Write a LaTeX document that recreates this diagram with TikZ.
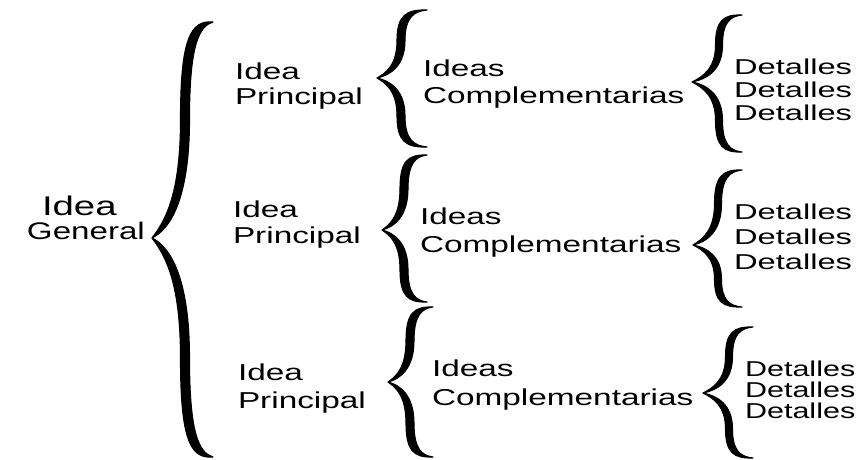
\documentclass[tikz,border=0pt]{standalone}
\usepackage{fontspec}
\setmainfont{Liberation Sans}
\usepackage{graphicx}
% half of a calligraphic brace: #1 tip x, #2 tip y, #3 arm x, #4 end x, #5 end y, #6 max width
\newcommand\halfb[6]{%
  \filldraw[bracefill]
   (#4,#5)
   .. controls ({#3-#6/2+0.35*(#4-#3)},{#5-0.01*(#2-#5)}) and ({#3-#6/2},{#5+0.08*(#2-#5)}) .. ({#3-#6/2},{#5+0.45*(#2-#5)})
   .. controls ({#3-#6/2},{#5+0.8*(#2-#5)}) and ({#1+0.4*(#3-#1)},{#2-0.08*(#2-#5)}) .. (#1,#2)
   .. controls ({#1+0.55*(#3-#1)},{#2-0.04*(#2-#5)}) and ({#3+#6/2},{#5+0.82*(#2-#5)}) .. ({#3+#6/2},{#5+0.45*(#2-#5)})
   .. controls ({#3+#6/2},{#5+0.1*(#2-#5)}) and ({#3+#6/2+0.35*(#4-#3)},{#5+0.02*(#2-#5)}) .. (#4,#5) -- cycle;}
% full brace: #1 tip x, #2 tip y, #3 arm x, #4 end x, #5 top y, #6 bottom y, #7 width
\newcommand\cbrace[7]{\halfb{#1}{#2}{#3}{#4}{#5}{#7}\halfb{#1}{#2}{#3}{#4}{#6}{#7}}
\newcommand\wt[2]{\scalebox{#1}[1]{#2}}
\tikzset{
  bracefill/.style={fill=black,draw=black,line width=1.1pt,line join=round},
  lbl/.style={anchor=base west,inner sep=0pt,outer sep=0pt,text=black},
  fgenA/.style={font=\fontsize{27}{27}\selectfont},
  fgenB/.style={font=\fontsize{24}{24}\selectfont},
  flv/.style={font=\fontsize{23}{23}\selectfont},
  fdet/.style={font=\fontsize{21.5}{21.5}\selectfont}
}
\begin{document}
\begin{tikzpicture}[x=1pt,y=-1pt]
\useasboundingbox[fill=white] (0,0) rectangle (863,460);
% braces
\cbrace{152}{238}{185}{213}{22}{457}{9}
\cbrace{377}{78}{401}{427}{10}{147}{8}
\cbrace{382}{230}{404}{427}{155}{302}{8}
\cbrace{388}{382}{410}{433}{307}{457}{8}
\cbrace{692}{82}{719}{742}{15}{152}{7}
\cbrace{693}{245}{718}{742}{170}{307}{7}
\cbrace{703}{393}{729}{753}{327}{458}{7}
% Idea General
\node[lbl,fgenA] (gA) at (42,215) {\wt{1.42}{Idea}};
\node[lbl,fgenB] (gB) at (27,239) {\wt{1.38}{General}};
% group 1
\node[lbl,flv] (pA1) at (235,80) {\wt{1.45}{Idea}};
\node[lbl,flv] (pB1) at (235,105) {\wt{1.45}{Principal}};
\node[lbl,flv] (cA1) at (423,77) {\wt{1.45}{Ideas}};
\node[lbl,flv] (cB1) at (423,103) {\wt{1.45}{Complementarias}};
\node[lbl,fdet] (dA1) at (734,75) {\wt{1.52}{Detalles}};
\node[lbl,fdet] (dB1) at (734,98) {\wt{1.52}{Detalles}};
\node[lbl,fdet] (dC1) at (734,121) {\wt{1.52}{Detalles}};
% group 2
\node[lbl,flv] (pA2) at (233,217) {\wt{1.45}{Idea}};
\node[lbl,flv] (pB2) at (233,243) {\wt{1.45}{Principal}};
\node[lbl,flv] (cA2) at (420,224) {\wt{1.45}{Ideas}};
\node[lbl,flv] (cB2) at (420,252) {\wt{1.45}{Complementarias}};
\node[lbl,fdet] (dA2) at (734,219) {\wt{1.52}{Detalles}};
\node[lbl,fdet] (dB2) at (734,244) {\wt{1.52}{Detalles}};
\node[lbl,fdet] (dC2) at (734,269) {\wt{1.52}{Detalles}};
% group 3
\node[lbl,flv] (pA3) at (238,380) {\wt{1.45}{Idea}};
\node[lbl,flv] (pB3) at (238,408) {\wt{1.45}{Principal}};
\node[lbl,flv] (cA3) at (432,376) {\wt{1.45}{Ideas}};
\node[lbl,flv] (cB3) at (432,405) {\wt{1.45}{Complementarias}};
\node[lbl,fdet] (dA3) at (745,376) {\wt{1.42}{Detalles}};
\node[lbl,fdet] (dB3) at (745,397) {\wt{1.42}{Detalles}};
\node[lbl,fdet] (dC3) at (745,418) {\wt{1.42}{Detalles}};
\end{tikzpicture}
\end{document}
